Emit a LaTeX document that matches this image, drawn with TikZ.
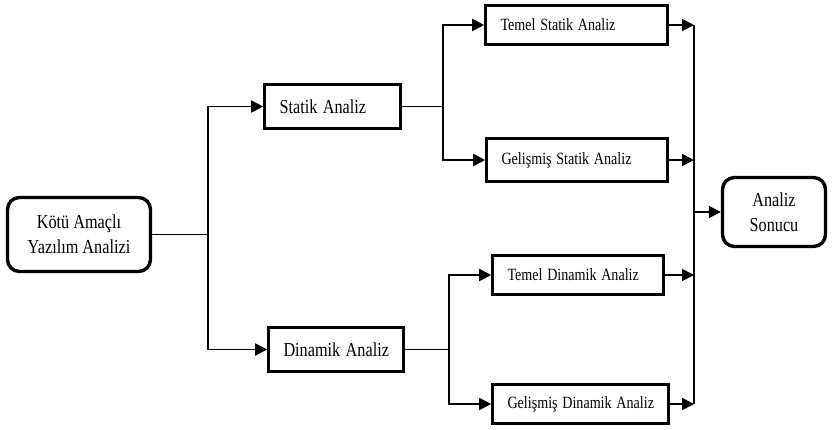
\documentclass[tikz,border=0pt]{standalone}
\usepackage{fontspec}
\setmainfont{Liberation Serif}
\usetikzlibrary{arrows.meta,positioning}
\newcommand{\sqz}[1]{\scalebox{0.82}[1]{#1}}

\begin{document}
\begin{tikzpicture}[x=1pt, y=-1pt,
    box/.style={draw, line width=2.6pt, inner xsep=15pt, inner ysep=0pt, align=left,
                font=\fontsize{19.8}{24}\selectfont},
    subbox/.style={box, font=\fontsize{17.2}{21}\selectfont},
    endbox/.style={draw, line width=3.4pt, rounded corners=12pt, align=center,
                   font=\fontsize{19.8}{25}\selectfont},
    conn/.style={line width=1.8pt},
    arr/.style={conn, -{Triangle[length=12pt,width=12pt]}}]
  \useasboundingbox (0,0) rectangle (832,429);
  % Start and end
  \node[endbox, minimum width=143pt, minimum height=74pt] (kotu) at (79,234.5) {\sqz{Kötü Amaçlı}\\\sqz{Yazılım Analizi}};
  \node[endbox, minimum width=103pt, minimum height=69pt] (sonuc) at (774,212) {\sqz{Analiz}\\\sqz{Sonucu}};
  % Main branches
  \node[box, text width=106pt, minimum height=44pt] (statik) at (332.5,106.5) {\sqz{Statik Analiz}};
  \node[box, text width=105pt, minimum height=44pt] (dinamik) at (336,349.5) {\sqz{Dinamik Analiz}};
  % Sub branches
  \node[subbox, text width=152pt, minimum height=39pt] (temelS) at (576.5,25) {\sqz{Temel Statik Analiz}};
  \node[subbox, text width=151pt, minimum height=43pt] (gelS) at (577,160) {\sqz{Gelişmiş Statik Analiz}};
  \node[subbox, text width=141pt, minimum height=39pt] (temelD) at (578,275) {\sqz{Temel Dinamik Analiz}};
  \node[subbox, text width=146pt, minimum height=39pt] (gelD) at (580.5,404) {\sqz{Gelişmiş Dinamik Analiz}};
  % Split points
  \coordinate (s1) at (208,234.5);
  \coordinate (s2) at (443,106.5);
  \coordinate (s3) at (449,349.5);
  \coordinate (join) at (694,212);
  % Connectors
  \draw[conn] (kotu.east) -- (s1);
  \draw[arr] (s1) |- (statik);
  \draw[arr] (s1) |- (dinamik);
  \draw[conn] (statik.east) -- (s2);
  \draw[arr] (s2) |- (temelS);
  \draw[arr] (s2) |- (gelS);
  \draw[conn] (dinamik.east) -- (s3);
  \draw[arr] (s3) |- (temelD);
  \draw[arr] (s3) |- (gelD);
  % Collecting line
  \draw[conn] (temelS.east -| join) -- (gelD.east -| join);
  \foreach \n in {temelS,gelS,temelD,gelD}
    \draw[arr] (\n.east) -- (\n.east -| join);
  \draw[arr] (join) -- (sonuc.west);
\end{tikzpicture}
\end{document}
